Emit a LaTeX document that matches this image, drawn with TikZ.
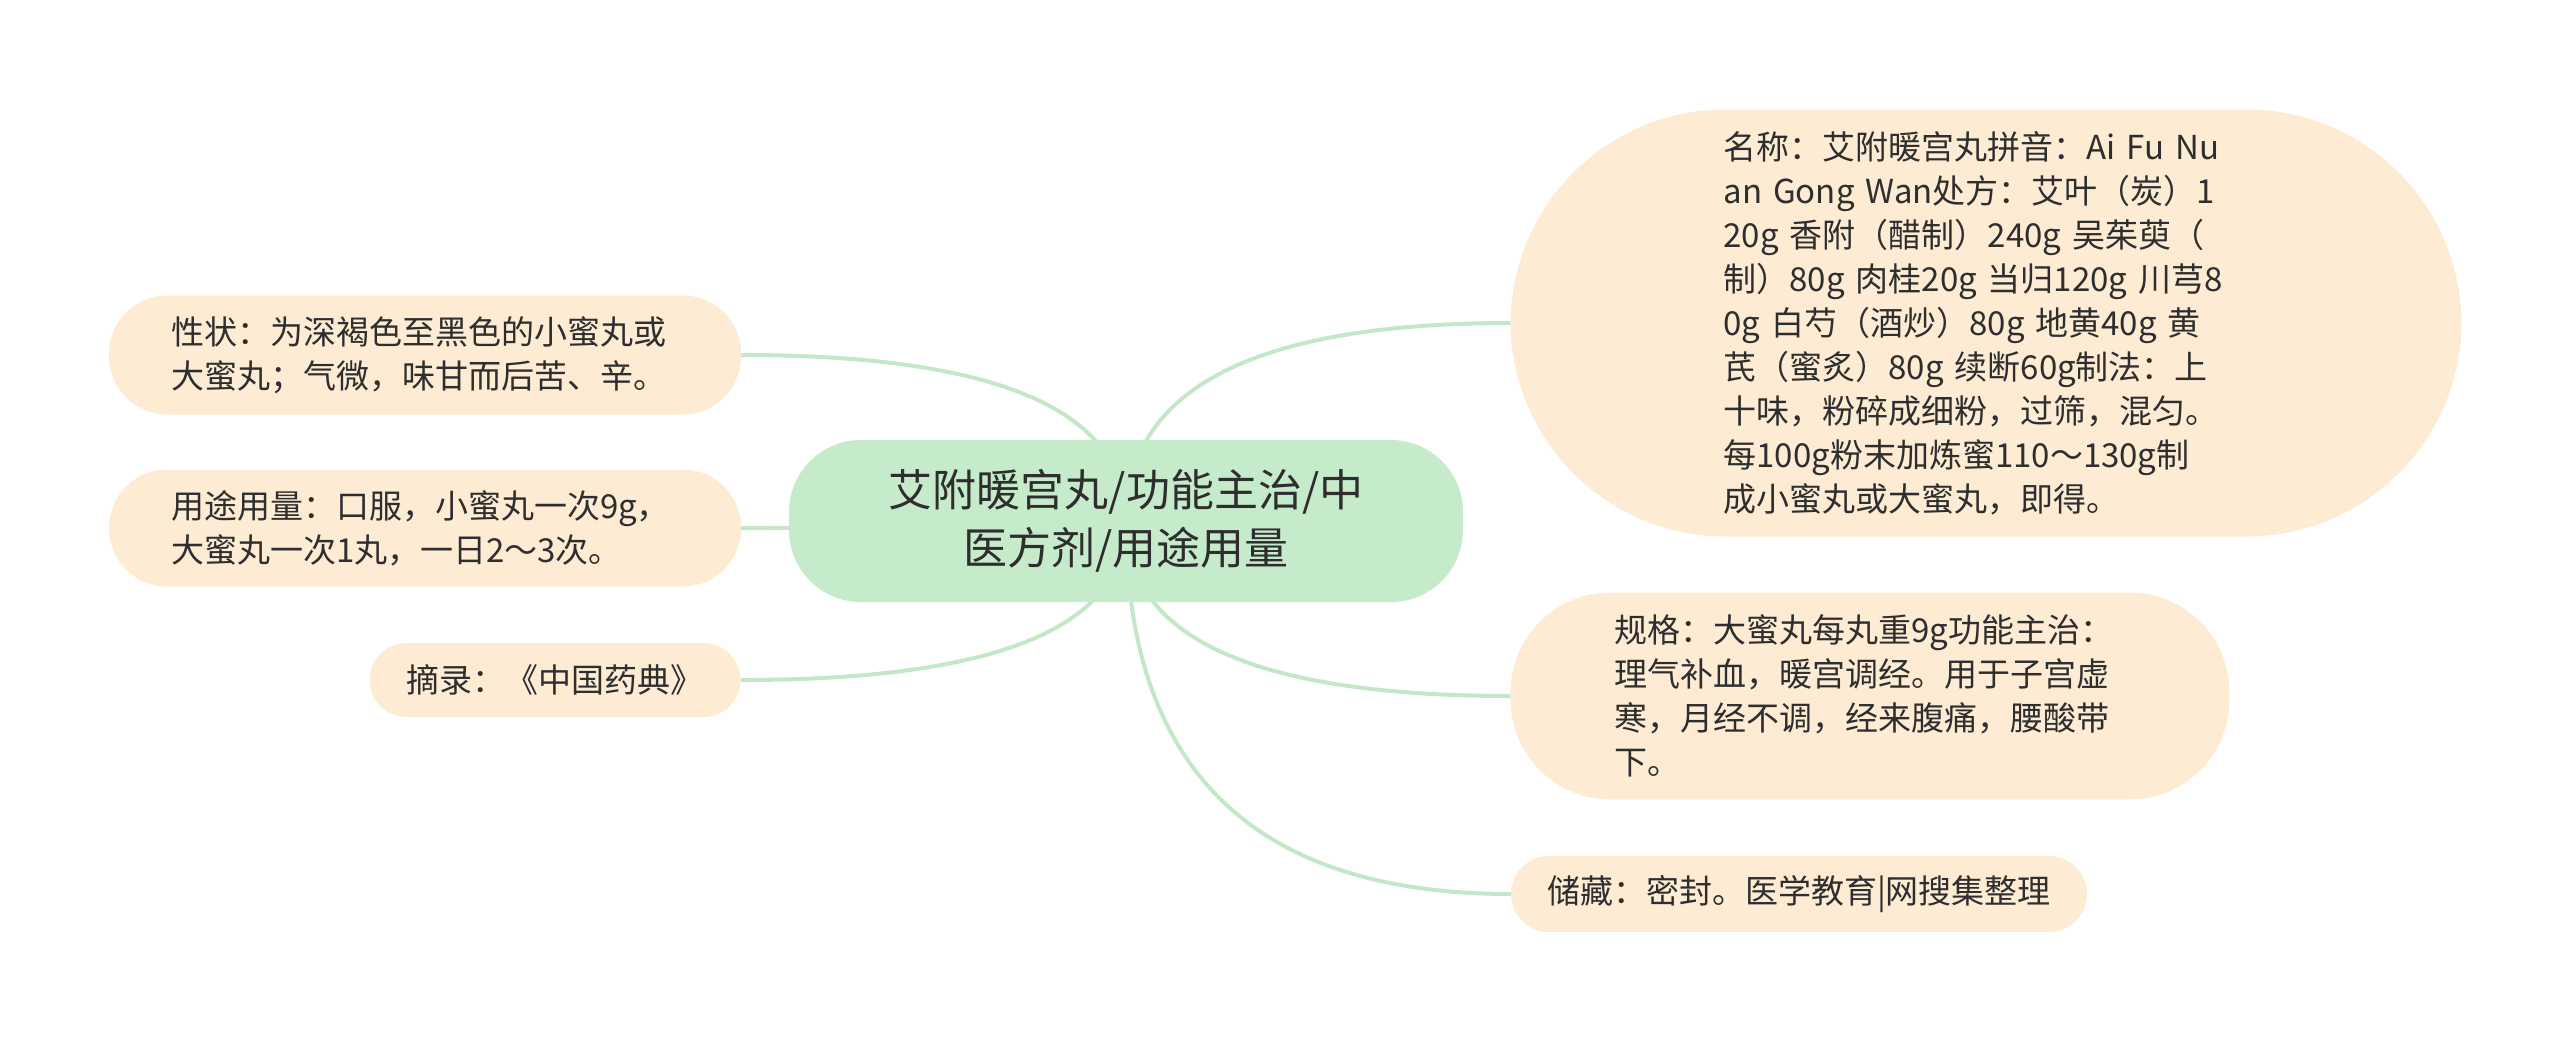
\documentclass[tikz,border=0pt]{standalone}
\usepackage{fontspec}
\setmainfont{Noto Sans CJK SC}
\usetikzlibrary{calc,backgrounds}
\definecolor{hubgreen}{HTML}{C6EBCA}
\definecolor{leafpeach}{HTML}{FDEBD3}
\definecolor{linkgreen}{HTML}{C3E7C7}
\definecolor{inkgrey}{HTML}{2E2E2E}
\begin{document}
\begin{tikzpicture}[x=1pt, y=-1pt, text=inkgrey,
  hub node/.style={rectangle, fill=hubgreen, inner sep=0pt, align=center, font=\fontsize{44}{58}\selectfont},
  leaf node/.style={rectangle, fill=leafpeach, inner sep=0pt, align=left, font=\fontsize{33}{44}\selectfont},
  branch/.style={draw=linkgreen, line width=4pt,
    to path={.. controls ($(\tikztostart)!0.667!(\tikztostart |- \tikztotarget)$) and ($(\tikztotarget)!0.667!(\tikztostart |- \tikztotarget)$) .. (\tikztotarget)}}]
\useasboundingbox (0,0) rectangle (2560,1042);
\begin{scope}
\node[hub node, minimum width=674pt, minimum height=162pt, rounded corners=72pt] (hub) at (1126,521) {艾附暖宫丸/功能主治/中\\医方剂/用途用量};
% right side
\node[leaf node, text width=525pt, inner xsep=213pt, minimum height=427pt, rounded corners=215pt] (name) at (1986,323) {名称：艾附暖宫丸拼音：Ai Fu Nu\\an Gong Wan处方：艾叶（炭）1\\20g 香附（醋制）240g 吴茱萸（\\制）80g 肉桂20g 当归120g 川芎8\\0g 白芍（酒炒）80g 地黄40g 黄\\芪（蜜炙）80g 续断60g制法：上\\十味，粉碎成细粉，过筛，混匀。\\每100g粉末加炼蜜110～130g制\\成小蜜丸或大蜜丸，即得。};
\node[leaf node, text width=511pt, inner xsep=104pt, minimum height=207pt, rounded corners=100pt] (spec) at (1870,696) {规格：大蜜丸每丸重9g功能主治：\\理气补血，暖宫调经。用于子宫虚\\寒，月经不调，经来腹痛，腰酸带\\下。};
\node[leaf node, minimum width=576pt, minimum height=76pt, rounded corners=38pt] (store) at (1799,894) {储藏：密封。医学教育|网搜集整理};
% left side
\node[leaf node, text width=508pt, inner xsep=62pt, minimum height=119pt, rounded corners=58pt] (trait) at (425,355) {性状：为深褐色至黑色的小蜜丸或\\大蜜丸；气微，味甘而后苦、辛。};
\node[leaf node, text width=508pt, inner xsep=62pt, minimum height=117pt, rounded corners=58pt] (usage) at (425,528) {用途用量：口服，小蜜丸一次9g，\\大蜜丸一次1丸，一日2～3次。};
\node[leaf node, minimum width=371pt, minimum height=74pt, rounded corners=37pt] (source) at (555,680) {摘录：《中国药典》};
\end{scope}
\begin{pgfonlayer}{background}
\draw (hub.center) edge[branch] (name.west);
\draw (hub.center) edge[branch] (spec.west);
\draw (hub.center) edge[branch] (store.west);
\draw (hub.center) edge[branch] (trait.east);
\draw (hub.center) edge[branch] (usage.east);
\draw (hub.center) edge[branch] (source.east);
\end{pgfonlayer}
\end{tikzpicture}
\end{document}
